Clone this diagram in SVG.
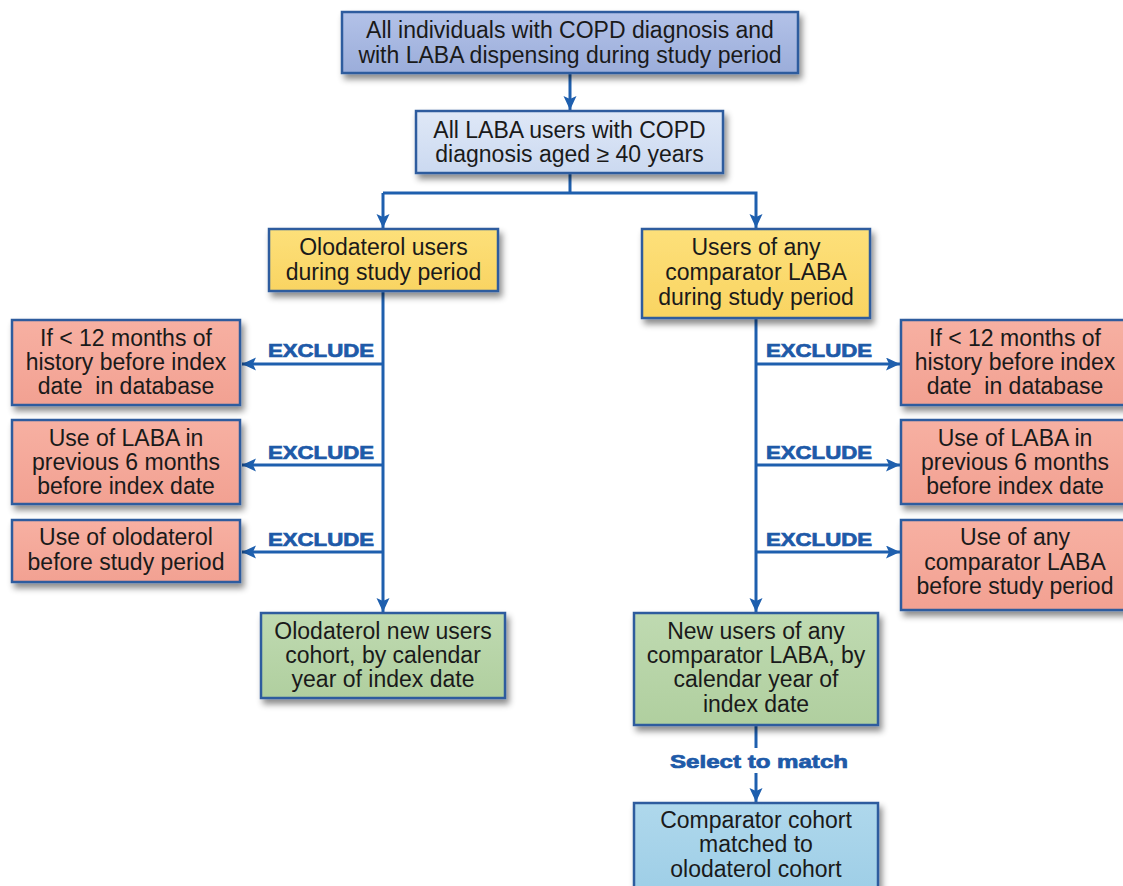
<svg xmlns="http://www.w3.org/2000/svg" width="1123" height="886" viewBox="0 0 1123 886">
<style>
.box{stroke:#2f5c9e;stroke-width:2.5}
.t{font-family:"Liberation Sans",Arial,sans-serif;font-size:23px;fill:#1a1a1a;text-anchor:middle}
.lbl{font-family:"Liberation Sans",Arial,sans-serif;font-weight:bold;font-size:18px;fill:#1e5aa8;stroke:#1e5aa8;stroke-width:0.7}
.ln{stroke:#1e5fae;stroke-width:3;fill:none}
</style>
<defs>
<filter id="sh" x="-10%" y="-10%" width="125%" height="135%">
<feDropShadow dx="3" dy="5" stdDeviation="3" flood-color="#000" flood-opacity="0.45"/>
</filter>
<linearGradient id="gTop" x1="0" y1="0" x2="0" y2="1"><stop offset="0" stop-color="#b3c2e8"/><stop offset="1" stop-color="#9badda"/></linearGradient>
<linearGradient id="gSec" x1="0" y1="0" x2="0" y2="1"><stop offset="0" stop-color="#dfe8f7"/><stop offset="1" stop-color="#cbd9f0"/></linearGradient>
<linearGradient id="gY" x1="0" y1="0" x2="0" y2="1"><stop offset="0" stop-color="#fde07a"/><stop offset="1" stop-color="#f9d462"/></linearGradient>
<linearGradient id="gR" x1="0" y1="0" x2="0" y2="1"><stop offset="0" stop-color="#f7b0a2"/><stop offset="1" stop-color="#f2a192"/></linearGradient>
<linearGradient id="gG" x1="0" y1="0" x2="0" y2="1"><stop offset="0" stop-color="#bfdab1"/><stop offset="1" stop-color="#b0cf9f"/></linearGradient>
<linearGradient id="gB" x1="0" y1="0" x2="0" y2="1"><stop offset="0" stop-color="#afd8ec"/><stop offset="1" stop-color="#9ccde6"/></linearGradient>
<marker id="ah" markerUnits="userSpaceOnUse" markerWidth="16" markerHeight="14" refX="14" refY="6.5" orient="auto">
<path d="M0,0 L14,6.5 L0,13 L3,6.5 z" fill="#1e5fae"/>
</marker>
</defs>

<g id="connectors">
<line class="ln" x1="570" y1="73" x2="570" y2="110" marker-end="url(#ah)"/>
<polyline class="ln" points="570,173 570,193"/>
<polyline class="ln" points="383,193 756,193 756,228" marker-end="url(#ah)"/>
<line class="ln" x1="383" y1="193" x2="383" y2="228" marker-end="url(#ah)"/>
<line class="ln" x1="383" y1="291" x2="383" y2="612" marker-end="url(#ah)"/>
<line class="ln" x1="756" y1="318" x2="756" y2="612" marker-end="url(#ah)"/>
<line class="ln" x1="383" y1="364" x2="242" y2="364" marker-end="url(#ah)"/>
<line class="ln" x1="383" y1="465" x2="242" y2="465" marker-end="url(#ah)"/>
<line class="ln" x1="383" y1="552" x2="242" y2="552" marker-end="url(#ah)"/>
<line class="ln" x1="756" y1="364" x2="900" y2="364" marker-end="url(#ah)"/>
<line class="ln" x1="756" y1="465" x2="900" y2="465" marker-end="url(#ah)"/>
<line class="ln" x1="756" y1="552" x2="900" y2="552" marker-end="url(#ah)"/>
<line class="ln" x1="756" y1="725" x2="756" y2="748"/>
<line class="ln" x1="756" y1="773" x2="756" y2="802" marker-end="url(#ah)"/>
<text class="lbl" x="268" y="357" textLength="106" lengthAdjust="spacingAndGlyphs">EXCLUDE</text>
<text class="lbl" x="268" y="459" textLength="106" lengthAdjust="spacingAndGlyphs">EXCLUDE</text>
<text class="lbl" x="268" y="546" textLength="106" lengthAdjust="spacingAndGlyphs">EXCLUDE</text>
<text class="lbl" x="766" y="357" textLength="106" lengthAdjust="spacingAndGlyphs">EXCLUDE</text>
<text class="lbl" x="766" y="459" textLength="106" lengthAdjust="spacingAndGlyphs">EXCLUDE</text>
<text class="lbl" x="766" y="546" textLength="106" lengthAdjust="spacingAndGlyphs">EXCLUDE</text>
<text class="lbl" x="670" y="768" font-size="20" textLength="178" lengthAdjust="spacingAndGlyphs">Select to match</text>
</g>

<g id="n_all">
<rect class="box" x="342" y="12" width="456" height="61" fill="url(#gTop)" filter="url(#sh)"/>
<text class="t" x="570" y="38">All individuals with COPD diagnosis and</text>
<text class="t" x="570" y="63">with LABA dispensing during study period</text>
</g>
<g id="n_laba">
<rect class="box" x="416" y="111" width="307" height="62" fill="url(#gSec)" filter="url(#sh)"/>
<text class="t" x="569.5" y="138">All LABA users with COPD</text>
<text class="t" x="569.5" y="162">diagnosis aged ≥ 40 years</text>
</g>
<g id="n_olo">
<rect class="box" x="269" y="229" width="229" height="62" fill="url(#gY)" filter="url(#sh)"/>
<text class="t" x="383.5" y="255">Olodaterol users</text>
<text class="t" x="383.5" y="280">during study period</text>
</g>
<g id="n_comp">
<rect class="box" x="642" y="229" width="228" height="89" fill="url(#gY)" filter="url(#sh)"/>
<text class="t" x="756" y="255">Users of any</text>
<text class="t" x="756" y="280">comparator LABA</text>
<text class="t" x="756" y="305">during study period</text>
</g>
<g id="n_lx1">
<rect class="box" x="12" y="320" width="228" height="85" fill="url(#gR)" filter="url(#sh)"/>
<text class="t" x="126" y="346">If &lt; 12 months of</text>
<text class="t" x="126" y="370">history before index</text>
<text class="t" x="126" y="394" xml:space="preserve">date  in database</text>
</g>
<g id="n_lx2">
<rect class="box" x="12" y="420" width="228" height="84" fill="url(#gR)" filter="url(#sh)"/>
<text class="t" x="126" y="446">Use of LABA in</text>
<text class="t" x="126" y="470">previous 6 months</text>
<text class="t" x="126" y="494">before index date</text>
</g>
<g id="n_lx3">
<rect class="box" x="12" y="520" width="228" height="62" fill="url(#gR)" filter="url(#sh)"/>
<text class="t" x="126" y="545">Use of olodaterol</text>
<text class="t" x="126" y="570">before study period</text>
</g>
<g id="n_rx1">
<rect class="box" x="901" y="320" width="228" height="85" fill="url(#gR)" filter="url(#sh)"/>
<text class="t" x="1015" y="346">If &lt; 12 months of</text>
<text class="t" x="1015" y="370">history before index</text>
<text class="t" x="1015" y="394" xml:space="preserve">date  in database</text>
</g>
<g id="n_rx2">
<rect class="box" x="901" y="420" width="228" height="84" fill="url(#gR)" filter="url(#sh)"/>
<text class="t" x="1015" y="446">Use of LABA in</text>
<text class="t" x="1015" y="470">previous 6 months</text>
<text class="t" x="1015" y="494">before index date</text>
</g>
<g id="n_rx3">
<rect class="box" x="901" y="520" width="228" height="90" fill="url(#gR)" filter="url(#sh)"/>
<text class="t" x="1015" y="545">Use of any</text>
<text class="t" x="1015" y="570">comparator LABA</text>
<text class="t" x="1015" y="594">before study period</text>
</g>
<g id="n_olonew">
<rect class="box" x="261" y="613" width="244" height="85" fill="url(#gG)" filter="url(#sh)"/>
<text class="t" x="383" y="639">Olodaterol new users</text>
<text class="t" x="383" y="663">cohort, by calendar</text>
<text class="t" x="383" y="687">year of index date</text>
</g>
<g id="n_compnew">
<rect class="box" x="634" y="613" width="244" height="112" fill="url(#gG)" filter="url(#sh)"/>
<text class="t" x="756" y="639">New users of any</text>
<text class="t" x="756" y="663">comparator LABA, by</text>
<text class="t" x="756" y="687">calendar year of</text>
<text class="t" x="756" y="712">index date</text>
</g>
<g id="n_matched">
<rect class="box" x="634" y="803" width="244" height="100" fill="url(#gB)" filter="url(#sh)"/>
<text class="t" x="756" y="828">Comparator cohort</text>
<text class="t" x="756" y="852">matched to</text>
<text class="t" x="756" y="877">olodaterol cohort</text>
</g>
</svg>
